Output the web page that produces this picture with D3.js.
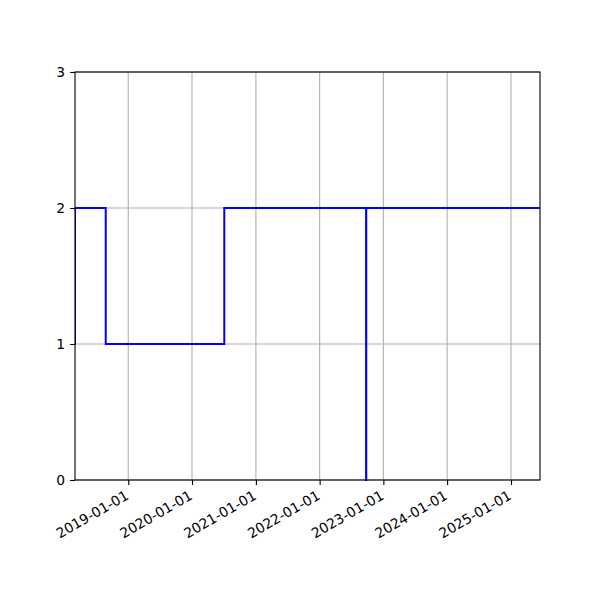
<!DOCTYPE html>
<html>
<head>
<meta charset="utf-8">
<script src="https://cdn.jsdelivr.net/npm/d3@7"></script>
<style>
  body { margin: 0; background: #fff; }
  text { font-family: "DejaVu Sans", sans-serif; }
</style>
</head>
<body>
<div class="stepchart"></div>
<script>
// step series
const dates = ["2018-03-01", "2018-03-02", "2018-08-25", "2020-07-04", "2022-09-24", "2022-09-25", "2025-06-16"];
const values = [1, 2, 1, 2, 0, 2, 2];
const xTicks = ["2019-01-01", "2020-01-01", "2021-01-01", "2022-01-01", "2023-01-01", "2024-01-01", "2025-01-01"];
const yTicks = [0, 1, 2, 3];
const xLimits = ["2018-03-02", "2025-06-16"];

const parse = d3.utcParse("%Y-%m-%d");
const fmt = d3.utcFormat("%Y-%m-%d");
const data = dates.map((d, i) => ({date: parse(d), value: values[i]}));

const margin = {top: 72, right: 60, bottom: 120, left: 75},
    width = 600 - margin.left - margin.right,
    height = 600 - margin.top - margin.bottom;

const svg = d3.select(".stepchart")
  .append("svg")
    .attr("width", 600)
    .attr("height", 600)
  .append("g")
    .attr("transform", "translate(" + margin.left + "," + margin.top + ")");

const x = d3.scaleUtc()
  .domain(xLimits.map(parse))
  .range([0, width]);

const y = d3.scaleLinear()
  .domain([0, 3])
  .range([height, 0]);

// grid
svg.append("g")
  .selectAll("line.vgrid")
  .data(xTicks.map(parse))
  .enter()
  .append("line")
    .attr("x1", d => x(d)).attr("x2", d => x(d))
    .attr("y1", 0).attr("y2", height)
    .attr("stroke", "#b0b0b0")
    .attr("stroke-width", 1.1);

svg.append("g")
  .selectAll("line.hgrid")
  .data(yTicks)
  .enter()
  .append("line")
    .attr("x1", 0).attr("x2", width)
    .attr("y1", d => y(d)).attr("y2", d => y(d))
    .attr("stroke", "#b0b0b0")
    .attr("stroke-width", 1.1);

// step line
svg.append("clipPath")
  .attr("id", "clip")
  .append("rect")
    .attr("width", width)
    .attr("height", height + 1);

const line = d3.line()
  .curve(d3.curveStepAfter)
  .x(d => x(d.date))
  .y(d => y(d.value));

svg.append("path")
  .datum(data)
  .attr("clip-path", "url(#clip)")
  .attr("fill", "none")
  .attr("stroke", "#0000ff")
  .attr("stroke-width", 2)
  .attr("d", line);

// X axis
const xAxis = svg.append("g")
  .attr("transform", "translate(0," + height + ")")
  .call(d3.axisBottom(x)
    .tickValues(xTicks.map(parse))
    .tickFormat(fmt)
    .tickSize(4.9)
    .tickPadding(4.9));
xAxis.selectAll("text")
  .attr("font-size", "13.9px")
  .attr("fill", "#000")
  .attr("text-anchor", "end")
  .attr("dy", "0.71em")
  .attr("transform", function() {
    const yy = +d3.select(this).attr("y");
    return "translate(-4,0) rotate(-30,0," + yy + ")";
  });

// Y axis
const yAxis = svg.append("g")
  .call(d3.axisLeft(y)
    .tickValues(yTicks)
    .tickFormat(d3.format("d"))
    .tickSize(4.9)
    .tickPadding(4.9));
yAxis.selectAll("text")
  .attr("font-size", "13.9px")
  .attr("fill", "#000");

[xAxis, yAxis].forEach(a => {
  a.select(".domain").remove();
  a.selectAll(".tick line").attr("stroke", "#000").attr("stroke-width", 1.1);
});

// frame
svg.append("rect")
  .attr("width", width)
  .attr("height", height)
  .attr("fill", "none")
  .attr("stroke", "#000")
  .attr("stroke-width", 1.1);
</script>
</body>
</html>
